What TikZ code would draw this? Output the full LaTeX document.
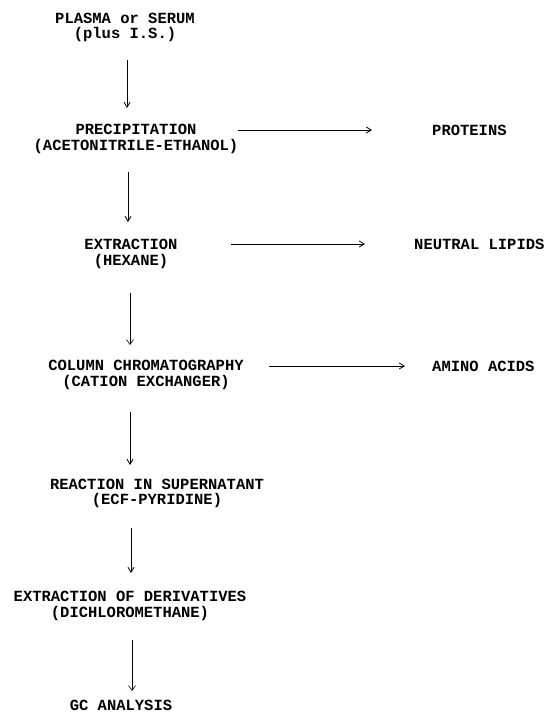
\documentclass[tikz,border=0pt]{standalone}
\usepackage{fontspec}
\setmonofont{Liberation Mono}
\usetikzlibrary{arrows.meta}
\begin{document}
\begin{tikzpicture}[x=1pt,y=-1pt,
  lbl/.style={font=\ttfamily\bfseries\fontsize{15.5}{15.5}\selectfont, align=center, inner sep=0pt},
  side/.style={lbl, anchor=west},
  flow/.style={-{Straight Barb[length=5pt,width=6pt]}, line width=0.8pt},
  flowopen/.style={-{Straight Barb[length=5pt,width=7pt]}, line width=0.6pt}]
\useasboundingbox (0,0) rectangle (549,712);
\fill[white] (0,0) rectangle (549,712);

\node[lbl] (plasma) at (125,27.5) {PLASMA or SERUM\\(plus I.S.)};
\node[lbl] (precip) at (136,139) {PRECIPITATION\\(ACETONITRILE-ETHANOL)};
\node[lbl] (extr) at (131,254) {EXTRACTION\\(HEXANE)};
\node[lbl] (column) at (146,375) {COLUMN CHROMATOGRAPHY\\(CATION EXCHANGER)};
\node[lbl] (react) at (157,493.5) {REACTION IN SUPERNATANT\\(ECF-PYRIDINE)};
\node[lbl] (deriv) at (130,606) {EXTRACTION OF DERIVATIVES\\(DICHLOROMETHANE)};
\node[lbl] (gc) at (121,705) {GC ANALYSIS};

\node[side] (proteins) at (432,130) {PROTEINS};
\node[side] (lipids) at (414,244) {NEUTRAL LIPIDS};
\node[side] (amino) at (432,366) {AMINO ACIDS};

% vertical connector ends
\coordinate (v1s) at (127,60);  \coordinate (v1e) at (127,108);
\coordinate (v2s) at (128,172); \coordinate (v2e) at (128,222);
\coordinate (v3s) at (130,293); \coordinate (v3e) at (130,345);
\coordinate (v4s) at (130,412); \coordinate (v4e) at (130,465);
\coordinate (v5s) at (131,528); \coordinate (v5e) at (131,573);
\coordinate (v6s) at (132,640); \coordinate (v6e) at (132,691);
% horizontal connector ends
\coordinate (h1s) at (238,130); \coordinate (h1e) at (372,130);
\coordinate (h2s) at (231,244); \coordinate (h2e) at (365,244);
\coordinate (h3s) at (269,366); \coordinate (h3e) at (405,366);

\draw[flow] (v1s) -- (v1e);
\draw[flow] (v2s) -- (v2e);
\draw[flowopen] (v3s) -- (v3e);
\draw[flow] (v4s) -- (v4e);
\draw[flow] (v5s) -- (v5e);
\draw[flowopen] (v6s) -- (v6e);

\draw[flow] (h1s) -- (h1e);
\draw[flow] (h2s) -- (h2e);
\draw[flow] (h3s) -- (h3e);
\end{tikzpicture}
\end{document}
